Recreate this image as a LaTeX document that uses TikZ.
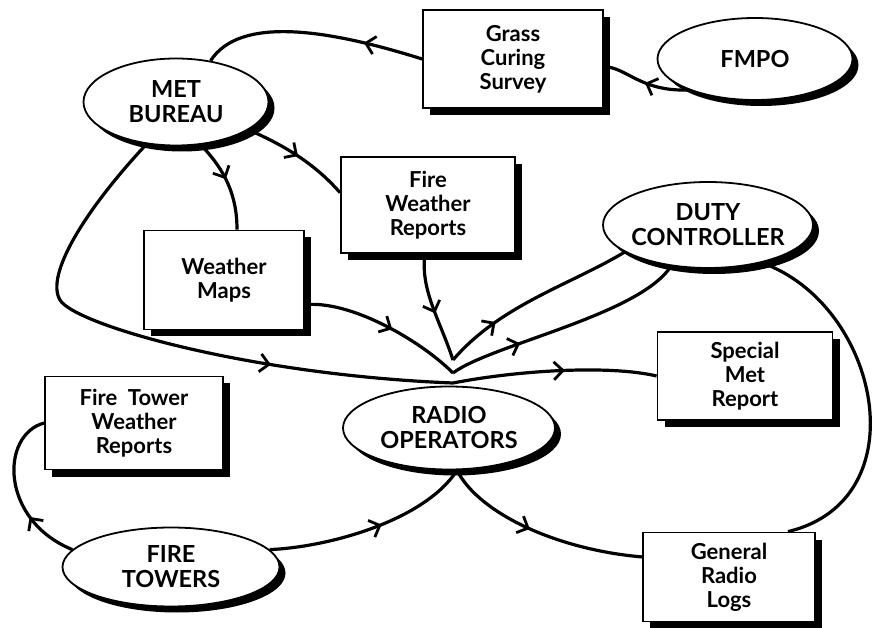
\documentclass[tikz,border=0pt]{standalone}
\usepackage{fontspec}
\setmainfont{Lato}
\usetikzlibrary{shapes.geometric,shadows,arrows.meta,decorations.markings}
\pgfdeclarelayer{bg}
\pgfsetlayers{bg,main}
\begin{document}
\begin{tikzpicture}[x=1pt,y=-1pt,
  boxnode/.style={draw, line width=1.8pt, fill=white, rectangle, align=center, inner sep=0pt,
    font=\fontsize{22}{24}\selectfont\bfseries,
    drop shadow={shadow xshift=7pt,shadow yshift=-7pt,opacity=1,fill=black}},
  ellnode/.style={draw, line width=1.8pt, fill=white, ellipse, align=center, inner sep=-10pt,
    font=\fontsize{23.5}{25}\selectfont\bfseries,
    drop shadow={shadow xshift=6pt,shadow yshift=-6pt,opacity=1,fill=black}},
  flow/.style={line width=3.2pt},
  midarrow/.style={postaction={decorate},decoration={markings,mark=at position #1 with {\arrow{Straight Barb[length=9pt,width=18pt,line width=2.8pt]}}}}
]
\useasboundingbox (0,0) rectangle (876,628);

% nodes
\node[boxnode, minimum width=180pt, minimum height=98pt] (grass) at (513,59) {Grass\\Curing\\Survey};
\node[ellnode, minimum width=195pt, minimum height=82pt] (fmpo) at (755,59) {FMPO};
\node[ellnode, minimum width=185pt, minimum height=87pt] (met) at (176,102) {MET\\BUREAU};
\node[boxnode, minimum width=174pt, minimum height=96pt] (fwr) at (428,205) {Fire\\Weather\\Reports};
\node[boxnode, minimum width=160pt, minimum height=99pt] (wmaps) at (224,280) {Weather\\Maps};
\node[ellnode, minimum width=210pt, minimum height=86pt] (duty) at (708,225) {DUTY\\CONTROLLER};
\node[boxnode, minimum width=175pt, minimum height=88pt] (smr) at (745,376) {Special\\Met\\Report};
\node[ellnode, minimum width=212pt, minimum height=83pt] (radio) at (449,428) {RADIO\\OPERATORS};
\node[boxnode, minimum width=178pt, minimum height=93pt] (ftwr) at (134,423) {Fire~~Tower\\Weather\\Reports};
\node[ellnode, minimum width=217pt, minimum height=79pt] (ftowers) at (171,567) {FIRE\\TOWERS};
\node[boxnode, minimum width=172pt, minimum height=89pt] (grl) at (729,577) {General\\Radio\\Logs};

\coordinate (v0) at ([shift={(4,-45)}]radio.center);
\coordinate (v1) at ([shift={(4,-68)}]radio.center);
\coordinate (v2) at ([shift={(4,-55)}]radio.center);

\begin{pgfonlayer}{bg}
% Grass -> MET
\draw[flow, midarrow=0.27] (grass.west) .. controls (330,30) and (240,15) .. (met.50);
% FMPO -> Grass
\draw[flow, midarrow=0.5] (fmpo.205) .. controls (640,92) and (625,66) .. (grass.-5);
% MET -> Weather Maps
\draw[flow, midarrow=0.45] (met.-60) .. controls (225,170) and (237,195) .. ([xshift=13pt]wmaps.north);
% MET -> Fire Weather Reports
\draw[flow, midarrow=0.5] (met.-21) .. controls (295,150) and (320,170) .. (fwr.172);
% MET -> Radio (big loop)
\draw[flow, midarrow=0.69] (met.235) .. controls (85,210) and (45,275) .. (60,300)
   .. controls (75,325) and (250,375) .. (v0);
% Radio -> Special Met Report
\draw[flow, midarrow=0.55] (v0) .. controls (520,370) and (610,365) .. (smr.west);
% Fire Weather Reports -> v1 -> Duty
\draw[flow, midarrow=0.55] ([xshift=-3pt]fwr.south) .. controls (420,290) and (440,320) .. (v1);
\draw[flow, midarrow=0.28] (v1) .. controls (500,305) and (570,285) .. (duty.198);
% Weather Maps -> v2 -> Duty
\draw[flow, midarrow=0.55] (wmaps.-17) .. controls (350,300) and (420,340) .. (v2);
\draw[flow, midarrow=0.3] (v2) .. controls (490,345) and (640,315) .. (duty.-132);
% Radio -> General Radio Logs
\draw[flow, midarrow=0.45] ([xshift=8pt]radio.south) .. controls (480,515) and (560,550) .. (grl.167);
% Fire Towers -> Radio
\draw[flow, midarrow=0.55] (ftowers.10) .. controls (330,547) and (425,520) .. ([xshift=8pt]radio.south);
% Fire Towers -> Fire Tower Weather Reports
\draw[flow, midarrow=0.33] (ftowers.170) .. controls (0,520) and (0,435) .. (ftwr.west);
% Duty -> General Radio Logs
\draw[flow] (duty.-35) .. controls (880,305) and (920,500) .. ([xshift=59pt]grl.north);
\end{pgfonlayer}
\end{tikzpicture}
\end{document}
